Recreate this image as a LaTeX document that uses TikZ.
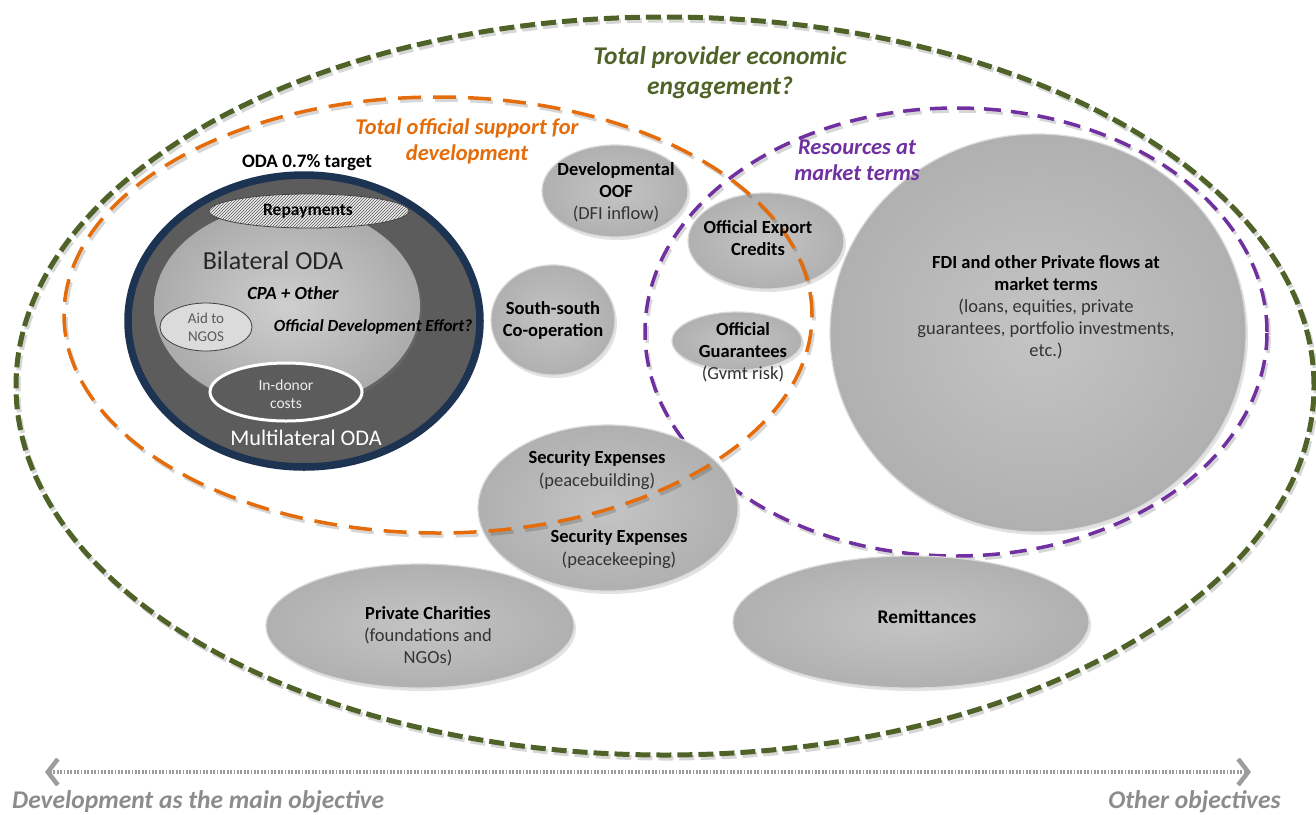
\documentclass[tikz,border=0pt]{standalone}
\usepackage{fontspec}
\setmainfont{Carlito}
\usetikzlibrary{shapes.geometric,shadows,patterns,arrows.meta}

\definecolor{engage}{HTML}{4F6228}
\definecolor{tossd}{HTML}{E46C0A}
\definecolor{market}{HTML}{7030A0}
\definecolor{navy}{HTML}{1C3352}
\definecolor{multi}{HTML}{5C5C5C}
\definecolor{bubin}{HTML}{C4C4C4}
\definecolor{bubout}{HTML}{B0B0B0}
\definecolor{bilin}{HTML}{CFCFCF}
\definecolor{bilout}{HTML}{ABABAB}
\definecolor{axisgray}{HTML}{8C8C8C}
\definecolor{txtgray}{HTML}{333333}
\definecolor{ngogray}{HTML}{5A5A5A}
\definecolor{hatchfill}{HTML}{EBEBEB}

\newcommand{\setfs}[2]{\fontsize{#1}{#2}\selectfont}

\tikzset{
  bubble/.style={ellipse, inner sep=0pt, draw=white!70!gray, line width=1.2pt,
    shading=radial, inner color=bubin, outer color=bubout,
    drop shadow={opacity=0.22, shadow xshift=2pt, shadow yshift=-3pt}},
  lbl/.style={align=center, inner sep=0pt, text=black, font=\setfs{18.5}{22}},
  titletxt/.style={align=center, inner sep=0pt, font=\setfs{25.5}{30}\bfseries\itshape},
  subtitle/.style={align=center, inner sep=0pt, font=\setfs{22.5}{26}\bfseries\itshape},
  greenring/.style={draw=engage, line width=5pt, dash pattern=on 15pt off 6pt},
  orangering/.style={draw=tossd, line width=3.5pt, dash pattern=on 23pt off 12pt},
  purplering/.style={draw=market, line width=3.5pt, dash pattern=on 17pt off 10pt},
  ringshadow/.style={draw=black, opacity=0.16, xshift=2pt, yshift=-3pt},
  axislabel/.style={inner sep=0pt, text=axisgray, font=\setfs{25.5}{28}\bfseries\itshape}
}

\begin{document}
\begin{tikzpicture}[x=1pt,y=-1pt]
\useasboundingbox (0,0) rectangle (1316,814);

% outer boundary: total provider economic engagement
\draw[greenring, ringshadow] (665,386) ellipse [x radius=649pt, y radius=369pt];
\draw[greenring] (665,386) ellipse [x radius=649pt, y radius=369pt];

% resources at market terms
\draw[purplering, ringshadow] (956,332) ellipse [x radius=311pt, y radius=224pt];
\draw[purplering] (956,332) ellipse [x radius=311pt, y radius=224pt];

% ODA block
\node[ellipse, inner sep=0pt, draw=navy, line width=7.5pt, fill=multi,
      minimum width=352pt, minimum height=292pt,
      drop shadow={opacity=0.25, shadow xshift=2pt, shadow yshift=-3pt}] (oda) at (304,321) {};
\node[ellipse, inner sep=0pt, shading=radial, inner color=bilin, outer color=bilout,
      minimum width=266pt, minimum height=202pt,
      drop shadow={opacity=0.25, shadow xshift=2pt, shadow yshift=-3pt}] (bil) at (287,306) {};
\node[ellipse, inner sep=0pt, draw=black!75, line width=0.8pt, fill=hatchfill,
      postaction={pattern=north east lines, pattern color=black!65},
      minimum width=200pt, minimum height=34pt] (repay) at (309,211) {};
\node[ellipse, inner sep=0pt, draw=black!75, line width=0.8pt, fill=black!14,
      minimum width=92pt, minimum height=48pt] (ngo) at (206,327) {};
\node[ellipse, inner sep=0pt, draw=white, line width=3pt, fill=multi,
      minimum width=152pt, minimum height=58pt] (indonor) at (286,392) {};

\node[lbl, font=\setfs{19}{22}\bfseries] (odatarget) at (307,163) {ODA 0.7\% target};
\node[lbl, font=\setfs{17.5}{20}\bfseries] (repayT) at (308,211) {Repayments};
\node[lbl, font=\setfs{26}{28}, text=black!85] (bilT) at (273,261) {Bilateral ODA};
\node[lbl, font=\setfs{18.5}{22}\bfseries\itshape] (cpa) at (293,293) {CPA + Other};
\node[lbl, font=\setfs{17}{20}\bfseries\itshape] (ode) at (373,327) {Official Development Effort?};
\node[lbl, font=\setfs{15}{18}, text=ngogray] (ngoT) at (206,327) {Aid to\\NGOS};
\node[lbl, font=\setfs{15.5}{18}, text=white!85!gray] (indonorT) at (286,394) {In-donor\\costs};
\node[lbl, font=\setfs{22.3}{24}, text=white] (multiT) at (306,438) {Multilateral ODA};

% other flows
\node[bubble, minimum width=146pt, minimum height=92pt] (oof) at (615,191) {};
\node[bubble, minimum width=124pt, minimum height=110pt] (ssc) at (553,320) {};
\node[bubble, minimum width=156pt, minimum height=96pt] (oec) at (766,241) {};
\node[bubble, minimum width=130pt, minimum height=58pt] (guar) at (737,341) {};
\node[bubble, minimum width=416pt, minimum height=398pt] (fdi) at (1038,333) {};
\node[bubble, minimum width=260pt, minimum height=166pt] (sec) at (608,508) {};
\node[bubble, minimum width=308pt, minimum height=124pt] (charity) at (420,626) {};
\node[bubble, minimum width=356pt, minimum height=132pt] (remit) at (911,622) {};

% total official support for development
\draw[orangering, ringshadow] (438,315) ellipse [x radius=374pt, y radius=218pt];
\draw[orangering] (438,315) ellipse [x radius=374pt, y radius=218pt];

\node[lbl] (oofT) at (616,192) {\textbf{Developmental}\\\textbf{OOF}\\{\color{txtgray}(DFI inflow)}};
\node[lbl, font=\setfs{18.5}{22}\bfseries] (sscT) at (553,320) {South-south\\Co-operation};
\node[lbl, font=\setfs{18.5}{22}\bfseries] (oecT) at (758,238) {Official Export\\Credits};
\node[lbl] (guarT) at (743,352) {\textbf{Official}\\\textbf{Guarantees}\\{\color{txtgray}(Gvmt risk)}};
\node[lbl] (fdiT) at (1046,307) {\textbf{FDI and other Private flows at}\\\textbf{market terms}\\{\color{txtgray}(loans, equities, private}\\{\color{txtgray}guarantees, portfolio investments,}\\{\color{txtgray}etc.)}};
\node[lbl, font=\setfs{18.5}{23}] (secbT) at (597,470) {\textbf{Security Expenses}\\{\color{txtgray}(peacebuilding)}};
\node[lbl, font=\setfs{18.5}{23}] (seckT) at (619,549) {\textbf{Security Expenses}\\{\color{txtgray}(peacekeeping)}};
\node[lbl] (charityT) at (428,636) {\textbf{Private Charities}\\{\color{txtgray}(foundations and}\\{\color{txtgray}NGOs)}};
\node[lbl, font=\setfs{19.3}{22}\bfseries] (remitT) at (927,617) {Remittances};

% ring titles
\node[titletxt, text=engage] (engT) at (720,73) {Total provider economic\\engagement?};
\node[subtitle, text=tossd] (tossdT) at (467,141) {Total official support for\\development};
\node[subtitle, text=market] (marketT) at (857,160) {Resources at\\market terms};

% objective axis
\coordinate (axL) at (45,772);
\coordinate (axR) at (1251,772);
\draw[axisgray!85, line width=3.5pt, dash pattern=on 1.8pt off 1.6pt,
      {Straight Barb[length=10pt,width=26pt,line width=4.5pt]}-{Straight Barb[length=10pt,width=26pt,line width=4.5pt]}] (axL) -- (axR);
\node[axislabel, anchor=west] (devobj) at (12,802) {Development as the main objective};
\node[axislabel, anchor=east] (otherobj) at (1281,802) {Other objectives};
\end{tikzpicture}
\end{document}
